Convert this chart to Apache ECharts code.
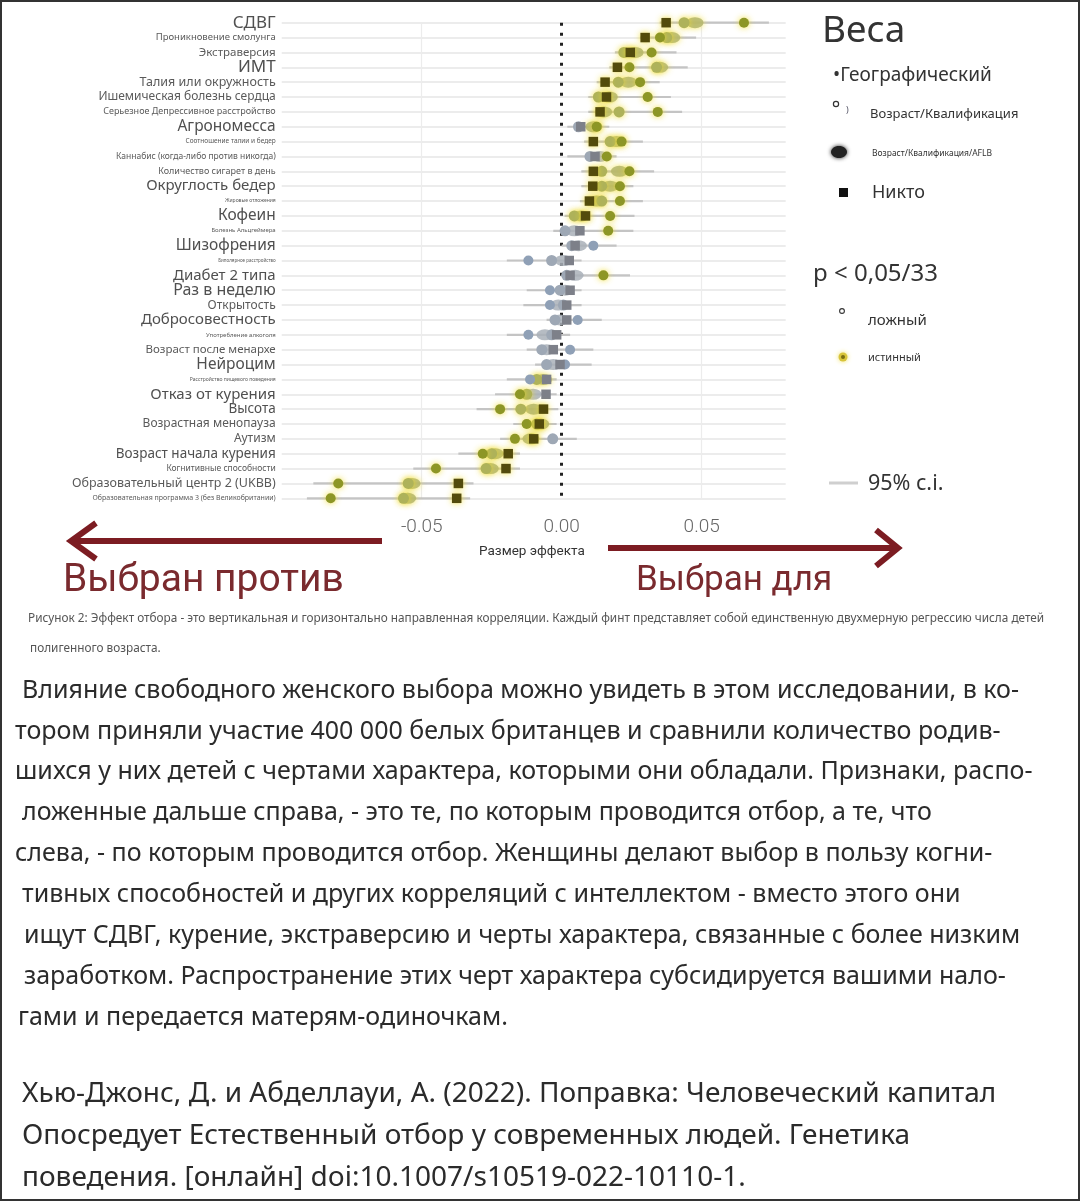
<!DOCTYPE html>
<html><head><meta charset="utf-8">
<script src="https://cdn.jsdelivr.net/npm/echarts@6/dist/echarts.min.js"></script>
<style>html,body{margin:0;padding:0;background:#fff;}#c{width:1080px;height:1201px;}</style>
</head><body><div id="c"></div>
<script>
// ---------- DATA ----------
const traits = ["СДВГ","Проникновение смолунга","Экстраверсия","ИМТ","Талия или окружность","Ишемическая болезнь сердца","Серьезное Депрессивное расстройство","Агрономесса","Соотношение талии и бедер","Каннабис (когда-либо против никогда)","Количество сигарет в день","Округлость бедер","Жировые отложения","Кофеин","Болезнь Альцгеймера","Шизофрения","Биполярное расстройство","Диабет 2 типа","Раз в неделю","Открытость","Добросовестность","Употребление алкоголя","Возраст после менархе","Нейроцим","Расстройство пищевого поведения","Отказ от курения","Высота","Возрастная менопауза","Аутизм","Возраст начала курения","Когнитивные способности","Образовательный центр 2 (UKBB)","Образовательная программа 3 (без Великобритании)"];
const geoVals  = [0.0651,0.0351,0.0321,0.0242,0.0280,0.0307,0.0343,0.0125,0.0214,0.0161,0.0242,0.0208,0.0208,0.0173,0.0166,0.0113,-0.0119,0.0149,-0.0042,-0.0042,0.0057,-0.0119,0.0030,0.0012,-0.0113,-0.0149,-0.0220,-0.0125,-0.0167,-0.0282,-0.0449,-0.0798,-0.0825];
const aqVals   = [0.0437,0.0375,0.0222,0.0339,0.0202,0.0131,0.0205,0.0060,0.0173,0.0101,0.0143,0.0143,0.0143,0.0045,0.0012,0.0036,-0.0036,0.0018,-0.0006,0.0006,-0.0024,-0.0036,-0.0071,-0.0054,-0.0089,-0.0125,-0.0146,-0.0089,-0.0032,-0.0250,-0.0270,-0.0548,-0.0565];
const aflbVals = [0.0476,0.0393,0.0262,0.0350,0.0238,0.0170,0.0150,0.0115,0.0196,0.0137,0.0206,0.0173,0.0125,0.0070,0.0045,0.0060,0.0006,0.0048,0.0012,-0.0012,-0.0006,-0.0060,-0.0054,-0.0030,-0.0065,-0.0102,-0.0100,-0.0075,-0.0110,-0.0238,-0.0255,-0.0535,-0.0550];
const noneVals = [0.0373,0.0298,0.0245,0.0199,0.0155,0.0160,0.0137,0.0068,0.0113,0.0119,0.0113,0.0111,0.0099,0.0085,0.0065,0.0048,0.0027,0.0030,0.0030,0.0018,0.0018,-0.0018,-0.0030,-0.0006,-0.0054,-0.0056,-0.0065,-0.0080,-0.0100,-0.0191,-0.0199,-0.0369,-0.0375];
// significance p < 0.05/33 (1 = true, 0 = false)
const geoSig  = [1,1,1,1,1,1,1,1,1,1,1,1,1,1,1,0,0,1,0,0,0,0,0,0,0,1,1,1,1,1,1,1,1];
const aqSig   = [1,1,1,1,1,1,1,0,1,0,1,1,1,1,0,0,0,0,0,0,0,0,0,0,1,1,1,1,0,1,1,1,1];
const aflbSig = [1,1,1,1,1,1,1,1,1,0,1,1,1,1,0,0,0,0,0,0,0,0,0,0,1,0,1,1,1,1,1,1,1];
const noneSig = [1,1,1,1,1,1,1,0,1,0,1,1,1,1,0,0,0,0,0,0,0,0,0,0,0,0,1,1,1,1,1,1,1];
const ciLow  = [0.035,0.028,0.019,0.017,0.0125,0.0095,0.0095,0.002,0.008,0.002,0.007,0.007,0.0065,0.001,-0.003,0.000,-0.0196,0.000,-0.0125,-0.0137,-0.0054,-0.0196,-0.0125,-0.0095,-0.0196,-0.0238,-0.0304,-0.0173,-0.022,-0.0369,-0.053,-0.0887,-0.091];
const ciHigh = [0.074,0.048,0.041,0.045,0.035,0.039,0.043,0.017,0.029,0.0196,0.033,0.0256,0.029,0.026,0.0256,0.0196,0.0071,0.0244,0.0071,0.0071,0.0143,0.003,0.0113,0.0107,-0.0018,-0.0018,-0.0012,-0.0018,0.0054,-0.0149,-0.0149,-0.0315,-0.0327];
const xTicks = [-0.05, 0.00, 0.05];

// ---------- STYLE ----------
const labelSize = [17,9.5,11.5,17,12.5,12,9,15.5,6.5,8.5,9,15,5,15.5,6,15.5,4.5,15,16,12,15,6,11.5,15.5,5,15,13.5,12,12,13.5,8.5,12.5,7];
const FONT = '"Noto Sans", "Open Sans", sans-serif';
const colT = {geo:'#8d9626', aq:'#aeb25a', aflb:'#b3b56f', none:'#534b0c'};
const colF = {geo:'#8fa0b6', aq:'#9ea8b5', aflb:'#a9b0b9', none:'#7d8089'};

const rich = {};
labelSize.forEach((s,i)=>{ rich['s'+i] = {fontSize:s, color: s>=13?'#505050':'#5a5a5a', fontFamily:FONT}; });

function pts(vals, sig, key){
  return vals.map((v,i)=>({
    value:[v,i],
    itemStyle:{
      color: sig[i]?colT[key]:colF[key],
      shadowBlur: sig[i]?6:0,
      shadowColor: sig[i]?'rgba(240,220,40,0.9)':'rgba(0,0,0,0)',
      opacity: key==='aflb'?0.85:1
    }
  }));
}

const chart = echarts.init(document.getElementById('c'), null, {renderer:'canvas'});

const paraLines = [
 "Влияние свободного женского выбора можно увидеть в этом исследовании, в ко-",
 "тором приняли участие 400 000 белых британцев и сравнили количество родив-",
 "шихся у них детей с чертами характера, которыми они обладали. Признаки, распо-",
 "ложенные дальше справа, - это те, по которым проводится отбор, а те, что",
 "слева, - по которым проводится отбор. Женщины делают выбор в пользу когни-",
 "тивных способностей и других корреляций с интеллектом - вместо этого они",
 "ищут СДВГ, курение, экстраверсию и черты характера, связанные с более низким",
 "заработком. Распространение этих черт характера субсидируется вашими нало-",
 "гами и передается матерям-одиночкам."
];
const paraX = [22,15,15,22,15,22,24,24,18];
const citeLines = [
 "Хью-Джонс, Д. и Абделлауи, А. (2022). Поправка: Человеческий капитал",
 "Опосредует Естественный отбор у современных людей. Генетика",
 "поведения. [онлайн] doi:10.1007/s10519-022-10110-1."
];

const graphics = [];
paraLines.forEach((t,i)=>graphics.push({type:'text', left:paraX[i], top:690+i*40.9-12, style:{text:t, font:'400 25px '+FONT, fill:'#2b2b2b'}}));
citeLines.forEach((t,i)=>graphics.push({type:'text', left:22, top:1093+i*42-13, style:{text:t, font:'400 28px '+FONT, fill:'#2b2b2b'}}));
// caption
graphics.push({type:'text', left:28, top:613, style:{text:'Рисунок 2: Эффект отбора - это вертикальная и горизонтально направленная корреляции. Каждый финт представляет собой единственную двухмерную регрессию числа детей', font:'11.8px '+FONT, fill:'#555'}});
graphics.push({type:'text', left:30, top:643, style:{text:'полигенного возраста.', font:'11.8px '+FONT, fill:'#555'}});
// arrows
const AR = '#7c1c22';
graphics.push({type:'line', shape:{x1:382,y1:541,x2:74,y2:541}, style:{stroke:AR, lineWidth:6}});
graphics.push({type:'polyline', shape:{points:[[96,523],[71,541],[96,559]]}, style:{stroke:AR, lineWidth:6, fill:null, lineJoin:'miter'}});
graphics.push({type:'line', shape:{x1:608,y1:548,x2:895,y2:548}, style:{stroke:AR, lineWidth:6}});
graphics.push({type:'polyline', shape:{points:[[876,530],[898,548],[876,566]]}, style:{stroke:AR, lineWidth:6, fill:null, lineJoin:'miter'}});
graphics.push({type:'text', left:63, top:562, style:{text:'Выбран против', font:'39px Roboto, '+FONT, fill:'#7a2a2e'}});
graphics.push({type:'text', left:636, top:564, style:{text:'Выбран для', font:'35px Roboto, '+FONT, fill:'#7a2a2e'}});
graphics.push({type:'text', left:479, top:545, style:{text:'Размер эффекта', font:'13.5px Roboto, '+FONT, fill:'#333'}});
// legend
graphics.push({type:'text', left:822, top:13, style:{text:'Веса', font:'37px '+FONT, fill:'#333'}});
graphics.push({type:'text', left:833, top:66, style:{text:'•Географический', font:'19px '+FONT, fill:'#333'}});
graphics.push({type:'circle', shape:{cx:836,cy:104,r:2.6}, style:{stroke:'#333', lineWidth:1.2, fill:'#fff'}});
graphics.push({type:'text', left:846, top:106, style:{text:')', font:'9px '+FONT, fill:'#556'}});
graphics.push({type:'text', left:870, top:108, style:{text:'Возраст/Квалификация', font:'13px '+FONT, fill:'#333'}});
graphics.push({type:'ellipse', shape:{cx:839,cy:152,rx:8,ry:6}, style:{fill:'#222', shadowBlur:4, shadowColor:'#222'}});
graphics.push({type:'text', left:872, top:149, style:{text:'Возраст/Квалификация/AFLB', font:'8.5px '+FONT, fill:'#333'}});
graphics.push({type:'rect', shape:{x:839,y:188,width:9,height:9}, style:{fill:'#111'}});
graphics.push({type:'text', left:872, top:184, style:{text:'Никто', font:'18px '+FONT, fill:'#333'}});
graphics.push({type:'text', left:813, top:262, style:{text:'p < 0,05/33', font:'24px '+FONT, fill:'#333'}});
graphics.push({type:'circle', shape:{cx:842,cy:311,r:2.4}, style:{stroke:'#333', lineWidth:1.1, fill:'#fff'}});
graphics.push({type:'text', left:868, top:313, style:{text:'ложный', font:'15px '+FONT, fill:'#333'}});
graphics.push({type:'circle', shape:{cx:843,cy:357,r:4.5}, style:{fill:'#d8c43a', shadowBlur:5, shadowColor:'#f0e060'}});
graphics.push({type:'circle', shape:{cx:843,cy:357,r:2}, style:{fill:'#7a6d10'}});
graphics.push({type:'text', left:868, top:352, style:{text:'истинный', font:'11px '+FONT, fill:'#333'}});
graphics.push({type:'line', shape:{x1:829,y1:483,x2:858,y2:483}, style:{stroke:'#cfcfcf', lineWidth:3}});
graphics.push({type:'text', left:868, top:473, style:{text:'95% c.i.', font:'21.5px '+FONT, fill:'#333'}});
// frame
graphics.push({type:'rect', shape:{x:0.5,y:0.5,width:1079,height:1200}, style:{fill:null, stroke:'#333', lineWidth:3}});

const option = {
  backgroundColor:'#fff',
  animation:false,
  grid:{left:281.7, right:294.3, top:22.7, bottom:702.7, containLabel:false},
  xAxis:{
    type:'value', min:-0.1, max:0.08, interval:0.05,
    axisLine:{show:false}, axisTick:{show:false}, splitLine:{show:false},
    axisLabel:{margin:19, fontSize:19, color:'#666', fontFamily:'Roboto, '+FONT, fontWeight:300,
      formatter:v=>{ const m = xTicks.find(t=>Math.abs(t-v)<1e-9); return m===undefined?'':m.toFixed(2); }}
  },
  yAxis:{
    type:'category', data:traits, inverse:true, boundaryGap:false,
    axisLine:{show:false}, axisTick:{show:false},
    splitLine:{show:true, interval:0, lineStyle:{color:'#e6e6e6', width:1.5}},
    axisLabel:{interval:0, margin:6, formatter:(v,i)=>'{s'+i+'|'+v+'}', rich:rich}
  },
  graphic:graphics,
  series:[
    {
      type:'custom', name:'ci', z:1,
      data:traits.map((t,i)=>[ciLow[i], i, ciHigh[i]]),
      renderItem:(params, api)=>{
        const a = api.coord([api.value(0), api.value(1)]);
        const b = api.coord([api.value(2), api.value(1)]);
        return {type:'line', shape:{x1:a[0],y1:a[1],x2:b[0],y2:b[1]}, style:{stroke:'#c4c4c4', lineWidth:2.2}};
      }
    },
    {type:'scatter', name:'Возраст/Квалификация/AFLB', z:2, symbol:'circle', symbolSize:[17,11], data:pts(aflbVals, aflbSig, 'aflb'),
      markLine:{
        silent:true, symbol:'none', label:{show:false}, z:0,
        data:[
          {xAxis:-0.05, lineStyle:{color:'#ececec', width:1.2, type:'solid'}},
          {xAxis:0.05, lineStyle:{color:'#ececec', width:1.2, type:'solid'}},
          {xAxis:0, lineStyle:{color:'#222', width:3, type:[3,7]}}
        ]
      }
    },
    {type:'scatter', name:'Возраст/Квалификация', z:3, symbol:'circle', symbolSize:11, data:pts(aqVals, aqSig, 'aq')},
    {type:'scatter', name:'Географический', z:4, symbol:'circle', symbolSize:10, data:pts(geoVals, geoSig, 'geo')},
    {type:'scatter', name:'Никто', z:5, symbol:'rect', symbolSize:9.5, data:pts(noneVals, noneSig, 'none')}
  ]
};
chart.setOption(option);
</script></body></html>
